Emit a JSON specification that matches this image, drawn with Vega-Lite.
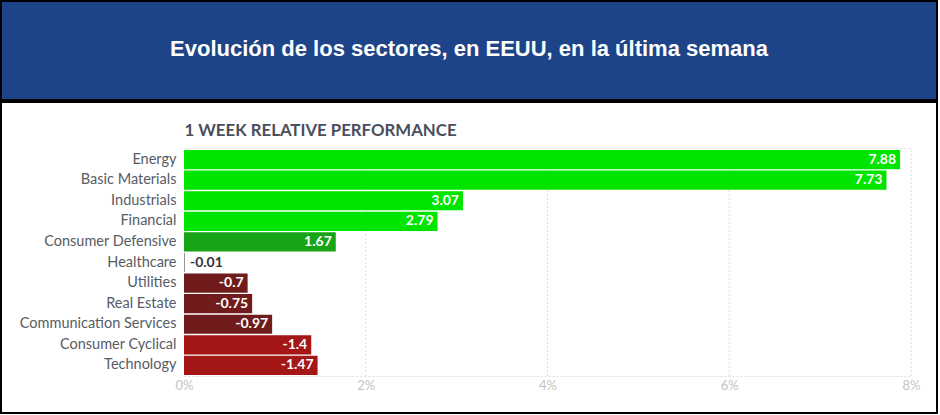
{
  "$schema": "https://vega.github.io/schema/vega-lite/v6.json",
  "background": "white",
  "padding": 0,
  "spacing": 0,
  "config": {"font": "Lato", "concat": {"spacing": 0}},
  "datasets": {
    "sectors": [
      {"sector": "Energy", "change": 7.88, "magnitude": 7.88},
      {"sector": "Basic Materials", "change": 7.73, "magnitude": 7.73},
      {"sector": "Industrials", "change": 3.07, "magnitude": 3.07},
      {"sector": "Financial", "change": 2.79, "magnitude": 2.79},
      {"sector": "Consumer Defensive", "change": 1.67, "magnitude": 1.67},
      {"sector": "Healthcare", "change": -0.01, "magnitude": 0.01},
      {"sector": "Utilities", "change": -0.7, "magnitude": 0.7},
      {"sector": "Real Estate", "change": -0.75, "magnitude": 0.75},
      {"sector": "Communication Services", "change": -0.97, "magnitude": 0.97},
      {"sector": "Consumer Cyclical", "change": -1.4, "magnitude": 1.4},
      {"sector": "Technology", "change": -1.47, "magnitude": 1.47}
    ],
    "gridTicks": [{"tick": 2}, {"tick": 4}, {"tick": 6}, {"tick": 8}]
  },
  "vconcat": [
    {
      "width": 936,
      "height": 99,
      "view": {"fill": "#1d4488", "stroke": "#000000", "strokeWidth": 2},
      "data": {"values": [{"heading": "Evolución de los sectores, en EEUU, en la última semana"}]},
      "mark": {"type": "text", "font": "Liberation Sans", "fontWeight": "bold", "fontSize": 22, "color": "#ffffff", "dy": -2},
      "encoding": {"text": {"field": "heading", "type": "nominal"}}
    },
    {
      "width": 936,
      "height": 311,
      "view": {"fill": "#ffffff", "stroke": "#000000", "strokeWidth": 2},
      "layer": [
        {
          "data": {"name": "gridTicks"},
          "mark": {"type": "rule", "color": "#dcdcdc", "strokeDash": [2, 2], "strokeWidth": 1},
          "encoding": {
            "x": {
              "field": "tick",
              "type": "quantitative",
              "scale": {"domain": [0, 8], "range": [183, 910]},
              "axis": {
                "orient": "top",
                "offset": -46,
                "domainColor": "#dcdcdc",
                "domainDash": [2, 2],
                "ticks": false,
                "labels": false,
                "grid": false,
                "title": "1 WEEK RELATIVE PERFORMANCE",
                "titleFont": "Lato",
                "titleFontWeight": "bold",
                "titleFontSize": 16.8,
                "titleColor": "#4a4f5c",
                "titleAnchor": null,
                "titleAlign": "left",
                "titleBaseline": "alphabetic",
                "titleX": 183,
                "titleY": -13
              }
            },
            "y": {"datum": 0, "type": "quantitative", "scale": {"domain": [0, 1], "range": [274, 46]}, "axis": null},
            "y2": {"datum": 1}
          }
        },
        {
          "data": {"name": "sectors"},
          "encoding": {
            "y": {
              "field": "sector",
              "type": "nominal",
              "sort": null,
              "scale": {"range": [47, 274], "paddingInner": 0.07, "paddingOuter": 0.05},
              "axis": {
                "orient": "left",
                "offset": -183,
                "domain": false,
                "ticks": false,
                "labelPadding": 8,
                "labelFont": "Lato",
                "labelFontSize": 14.5,
                "labelColor": "#575c66",
                "title": null
              }
            },
            "x": {
              "field": "magnitude",
              "type": "quantitative",
              "scale": {"domain": [0, 8], "range": [183, 910]},
              "axis": {
                "orient": "bottom",
                "offset": -37,
                "values": [0, 2, 4, 6, 8],
                "labelExpr": "datum.value + '%'",
                "labelFlush": false,
                "domainColor": "#dcdcdc",
                "domainDash": [2, 2],
                "ticks": false,
                "grid": false,
                "labelFont": "Lato",
                "labelFontSize": 13,
                "labelColor": "#c4c4c4",
                "labelPadding": 3,
                "title": null
              }
            }
          },
          "layer": [
            {
              "mark": {"type": "bar"},
              "encoding": {
                "color": {
                  "field": "change",
                  "type": "quantitative",
                  "scale": {
                    "type": "threshold",
                    "domain": [-1, -0.1, 0.1, 2],
                    "range": ["#a51616", "#701c1c", "#8a8a8a", "#17a517", "#00e500"]
                  },
                  "legend": null
                }
              }
            },
            {
              "transform": [{"filter": "datum.magnitude >= 0.1"}],
              "mark": {"type": "text", "align": "right", "baseline": "middle", "dx": -4, "font": "Lato", "fontWeight": "bold", "fontSize": 14, "color": "#ffffff"},
              "encoding": {"text": {"field": "change", "type": "nominal"}}
            },
            {
              "transform": [{"filter": "datum.magnitude < 0.1"}],
              "mark": {"type": "text", "align": "left", "baseline": "middle", "dx": 5, "font": "Lato", "fontWeight": "bold", "fontSize": 14, "color": "#333333"},
              "encoding": {"text": {"field": "change", "type": "nominal"}}
            }
          ]
        }
      ],
      "resolve": {"scale": {"y": "independent"}, "axis": {"x": "independent", "y": "independent"}}
    }
  ]
}
